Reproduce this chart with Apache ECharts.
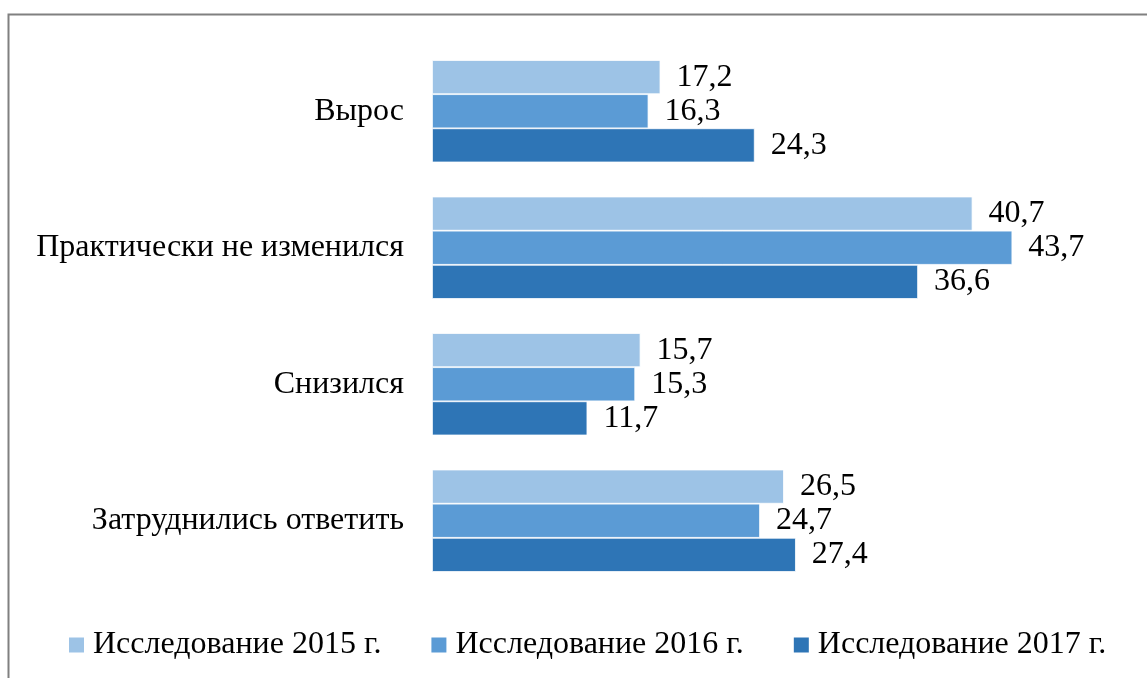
<!DOCTYPE html>
<html>
<head>
<meta charset="utf-8">
<script src="https://cdn.jsdelivr.net/npm/echarts@6/dist/echarts.min.js"></script>
<style>
  html, body { margin: 0; padding: 0; background: #fff; }
  #main { width: 1147px; height: 678px; }
</style>
</head>
<body>
<div id="main"></div>
<script>
// данные
var categories = ['Вырос', 'Практически не изменился', 'Снизился', 'Затруднились ответить'];
var seriesNames = ['Исследование 2015 г.', 'Исследование 2016 г.', 'Исследование 2017 г.'];
var values2015 = [17.2, 40.7, 15.7, 26.5];
var values2016 = [16.3, 43.7, 15.3, 24.7];
var values2017 = [24.3, 36.6, 11.7, 27.4];
var colors = ['#9DC3E6', '#5B9BD5', '#2E75B6'];

var myChart = echarts.init(document.getElementById('main'));
var font = '"Liberation Serif", "Times New Roman", serif';

function makeSeries(name, data, color) {
    return {
        name: name,
        type: 'bar',
        data: data,
        barGap: '0%',
        barCategoryGap: '25%',
        itemStyle: { color: color, borderColor: '#fff', borderWidth: 0.8 },
        label: {
            show: true,
            position: 'right',
            distance: 16,
            color: '#000',
            fontFamily: font,
            fontSize: 32,
            formatter: function (p) { return String(p.value).replace('.', ','); }
        }
    };
}

var option = {
    animation: false,
    textStyle: { fontFamily: font },
    graphic: [{
        type: 'rect',
        left: 6, top: 12,
        shape: { width: 1200, height: 700 },
        style: { fill: 'none', stroke: '#808080', lineWidth: 2 }
    }],
    grid: { left: 432, right: 51, top: 43, bottom: 89, containLabel: false },
    legend: {
        data: seriesNames,
        top: 624,
        left: 64,
        itemWidth: 15,
        itemHeight: 15,
        itemGap: 50,
        icon: 'rect',
        itemStyle: { borderWidth: 0 },
        textStyle: { fontFamily: font, fontSize: 32, color: '#000', padding: [0, 0, 0, 4] }
    },
    xAxis: {
        type: 'value',
        min: 0,
        max: 50,
        show: false
    },
    yAxis: {
        type: 'category',
        data: categories,
        inverse: true,
        axisLine: { show: false },
        axisTick: { show: false },
        axisLabel: { margin: 28, color: '#000', fontFamily: font, fontSize: 32 }
    },
    series: [
        makeSeries(seriesNames[0], values2015, colors[0]),
        makeSeries(seriesNames[1], values2016, colors[1]),
        makeSeries(seriesNames[2], values2017, colors[2])
    ]
};

myChart.setOption(option);
</script>
</body>
</html>
